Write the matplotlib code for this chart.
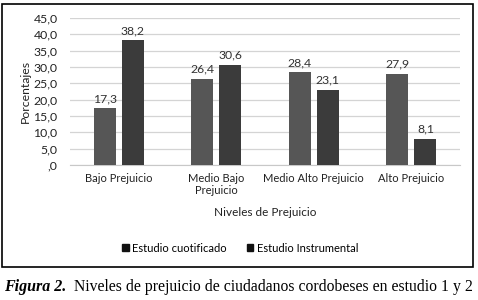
import matplotlib.pyplot as plt
from matplotlib.patches import Rectangle
import numpy as np

categorias = ["Bajo Prejuicio", "Medio Bajo\nPrejuicio", "Medio Alto Prejuicio", "Alto Prejuicio"]
cuotificado = [17.3, 26.4, 28.4, 27.9]
instrumental = [38.2, 30.6, 23.1, 8.1]
series = ["Estudio cuotificado", "Estudio Instrumental"]
yticks = [0, 5, 10, 15, 20, 25, 30, 35, 40, 45]


def fmt(v):
    s = f"{v:.1f}".replace(".", ",")
    return s[1:] if s.startswith("0") else s


plt.rcParams['font.family'] = ['Lato', 'DejaVu Sans']

fig = plt.figure(figsize=(4.78, 3.0), dpi=100)
ax = fig.add_axes([70 / 478, 1 - 165 / 300, 390 / 478, 147 / 300])

x = np.arange(len(categorias))
w = 0.225
off = 0.145
b1 = ax.bar(x - off, cuotificado, w, color="#565656", label=series[0], zorder=3)
b2 = ax.bar(x + off, instrumental, w, color="#3b3b3b", label=series[1], zorder=3)

for bars, vals in ((b1, cuotificado), (b2, instrumental)):
    for r, v in zip(bars, vals):
        ax.text(r.get_x() + r.get_width() / 2, v + 1.3, fmt(v), ha="center", va="bottom",
                fontsize=8.8, color="#333333")

ax.set_xlim(-0.5, 3.5)
ax.set_ylim(0, 45)
ax.set_yticks(yticks)
ax.set_yticklabels([fmt(v) for v in yticks], fontsize=8.8, color="#222222")
ax.set_xticks(x)
ax.set_xticklabels(categorias, fontsize=8, color="#222222", linespacing=1.1)
ax.tick_params(length=0, pad=6)
ax.tick_params(axis="y", pad=9)
ax.grid(axis="y", color="#d4d4d4", linewidth=0.9, zorder=0)
for s in ("top", "right", "left"):
    ax.spines[s].set_visible(False)
ax.spines["bottom"].set_color("#c8c8c8")

ax.set_ylabel("Porcentajes", fontsize=8.8, color="#222222", labelpad=2)
fig.text(265 / 478, 1 - 213 / 300, "Niveles de Prejuicio", ha="center", va="center",
         fontsize=8.5, color="#222222")

fig.legend(handles=[b1, b2], labels=series, loc="center", bbox_to_anchor=(240 / 478, 1 - 248 / 300),
           ncol=2, frameon=False, fontsize=8, handlelength=0.6, handleheight=0.6,
           handletextpad=0.3, columnspacing=1.8)
for h in fig.legends[0].legend_handles:
    h.set_color("#111111")

fig.patches.append(Rectangle((2 / 478, 1 - 267 / 300), 471 / 478, 263 / 300, transform=fig.transFigure,
                             fill=False, edgecolor="black", linewidth=1.2))

fig.text(4 / 478, 1 - 287 / 300, "Figura 2.", fontsize=11.5, family="Liberation Serif",
         style="italic", weight="bold", va="center")
fig.text(74 / 478, 1 - 287 / 300, "Niveles de prejuicio de ciudadanos cordobeses en estudio 1 y 2",
         fontsize=11.3, family="Liberation Serif", va="center")

fig.savefig("out.png", dpi=100)
